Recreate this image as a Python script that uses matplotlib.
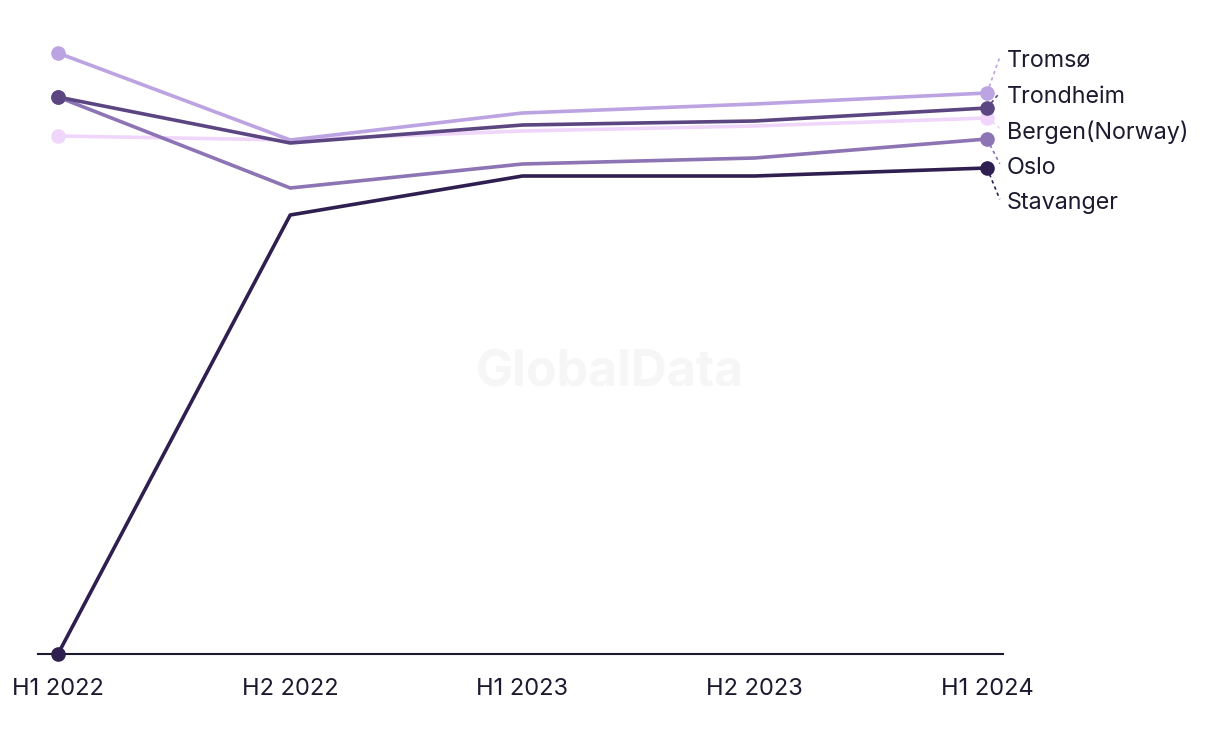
import matplotlib
matplotlib.use("Agg")
import matplotlib.pyplot as plt
import numpy as np

periods = ["H1 2022", "H2 2022", "H1 2023", "H2 2023", "H1 2024"]
tromso = [601, 514, 541, 550, 561]
trondheim = [557, 511, 529, 533, 546]
bergen = [518, 514, 523, 528, 536]
oslo = [557, 466, 490, 496, 515]
stavanger = [0, 439, 478, 478, 486]

series_names = ["Bergen(Norway)", "Tromsø", "Oslo", "Trondheim", "Stavanger"]
series_vals = [bergen, tromso, oslo, trondheim, stavanger]
colors = {"Tromsø": "#bca3e2", "Trondheim": "#5c4682", "Bergen(Norway)": "#f0d6fa",
          "Oslo": "#8d74b4", "Stavanger": "#2f1f50"}

plt.rcParams['font.family'] = ['Inter', 'DejaVu Sans']
fig = plt.figure(figsize=(12.2, 7.44), dpi=100)
ax = fig.add_axes([38/1220, 1-654/744, (1003-38)/1220, (654-30)/744])
x = np.arange(len(periods))
for name, vals in zip(series_names, series_vals):
    c = colors[name]
    ax.plot(x, vals, color=c, lw=2.6, solid_capstyle='round', zorder=3, clip_on=False)
    ax.plot([x[0], x[-1]], [vals[0], vals[-1]], 'o', color=c, ms=9.5, zorder=4, clip_on=False)

ax.set_xlim(-0.086, 4.069)
ax.set_ylim(0, 624)
ax.set_xticks(x)
ax.set_xticklabels(periods, fontsize=17, color="#1c1a2e")
ax.tick_params(axis='x', length=0, pad=17)
ax.set_yticks([])
for s in ["top", "right", "left"]:
    ax.spines[s].set_visible(False)
ax.spines["bottom"].set_color("#1c1a2e")
ax.spines["bottom"].set_linewidth(1.5)

# end labels with leader lines
ends = sorted([(vals[-1], name) for name, vals in zip(series_names, series_vals)], reverse=True)
spacing = 35.5
center = np.mean([e[0] for e in ends]) - 7
for i, (v, name) in enumerate(ends):
    ly = center - (i - 2) * spacing
    ax.plot([4, 4.055], [v, ly + 4], ls=(0, (2, 2)), lw=1.2, color=colors[name], clip_on=False, zorder=2)
    ax.text(4.085, ly, name, fontsize=16.8, color="#1c1a2e", va='center', ha='left', clip_on=False)

fig.text(610/1220, 1-373/744, "GlobalData", fontsize=36, fontweight='bold', color="#f6f6f6",
         ha='center', va='center', zorder=0)

fig.savefig("out.png", dpi=100)
